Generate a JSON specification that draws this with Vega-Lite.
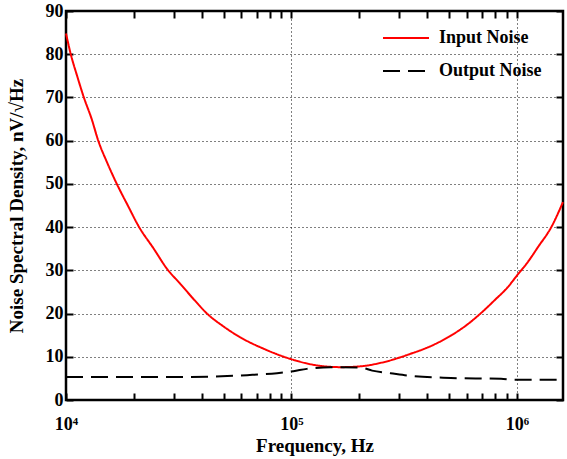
{
  "$schema": "https://vega.github.io/schema/vega-lite/v6.json",
  "autosize": {"type": "none"},
  "width": 497,
  "height": 389,
  "padding": {"left": 66, "top": 11, "right": 4, "bottom": 59},
  "background": "white",
  "config": {
    "view": {"stroke": "black", "strokeWidth": 2.5},
    "font": "Liberation Serif",
    "axis": {
      "domain": false,
      "labelFont": "Liberation Serif",
      "labelFontWeight": "bold",
      "labelFontSize": 18,
      "labelColor": "black",
      "titleFont": "Liberation Serif",
      "titleFontWeight": "bold",
      "titleFontSize": 19,
      "titleColor": "black",
      "gridColor": "black",
      "gridDash": [1, 3],
      "gridWidth": 1,
      "gridOpacity": 1,
      "labelFlush": false,
      "labelOverlap": false
    },
    "legend": {
      "labelFont": "Liberation Serif",
      "labelFontWeight": "bold",
      "labelFontSize": 18,
      "labelColor": "black"
    }
  },
  "data": {
    "values": [
      {"f": 10000, "v": 84.8, "s": "Input Noise"},
      {"f": 10500, "v": 80, "s": "Input Noise"},
      {"f": 11200, "v": 75, "s": "Input Noise"},
      {"f": 12000, "v": 70, "s": "Input Noise"},
      {"f": 13000, "v": 65, "s": "Input Noise"},
      {"f": 13900, "v": 60, "s": "Input Noise"},
      {"f": 15200, "v": 55, "s": "Input Noise"},
      {"f": 16800, "v": 50, "s": "Input Noise"},
      {"f": 18800, "v": 45, "s": "Input Noise"},
      {"f": 21100, "v": 40, "s": "Input Noise"},
      {"f": 24500, "v": 35, "s": "Input Noise"},
      {"f": 28000, "v": 30.4, "s": "Input Noise"},
      {"f": 32100, "v": 26.9, "s": "Input Noise"},
      {"f": 37000, "v": 23.2, "s": "Input Noise"},
      {"f": 42200, "v": 20, "s": "Input Noise"},
      {"f": 50000, "v": 17, "s": "Input Noise"},
      {"f": 59300, "v": 14.5, "s": "Input Noise"},
      {"f": 75300, "v": 11.85, "s": "Input Noise"},
      {"f": 99000, "v": 9.5, "s": "Input Noise"},
      {"f": 130000, "v": 8.0, "s": "Input Noise"},
      {"f": 165000, "v": 7.6, "s": "Input Noise"},
      {"f": 203000, "v": 7.8, "s": "Input Noise"},
      {"f": 249000, "v": 8.6, "s": "Input Noise"},
      {"f": 338000, "v": 10.7, "s": "Input Noise"},
      {"f": 420000, "v": 12.6, "s": "Input Noise"},
      {"f": 509000, "v": 14.9, "s": "Input Noise"},
      {"f": 600000, "v": 17.4, "s": "Input Noise"},
      {"f": 692000, "v": 20.1, "s": "Input Noise"},
      {"f": 800000, "v": 23.2, "s": "Input Noise"},
      {"f": 910000, "v": 26.1, "s": "Input Noise"},
      {"f": 1000000, "v": 28.8, "s": "Input Noise"},
      {"f": 1120000, "v": 32, "s": "Input Noise"},
      {"f": 1240000, "v": 35.4, "s": "Input Noise"},
      {"f": 1420000, "v": 40, "s": "Input Noise"},
      {"f": 1600000, "v": 45.8, "s": "Input Noise"},
      {"f": 10000, "v": 5.3, "s": "Output Noise"},
      {"f": 20000, "v": 5.3, "s": "Output Noise"},
      {"f": 32000, "v": 5.3, "s": "Output Noise"},
      {"f": 43000, "v": 5.4, "s": "Output Noise"},
      {"f": 63500, "v": 5.75, "s": "Output Noise"},
      {"f": 86300, "v": 6.2, "s": "Output Noise"},
      {"f": 102000, "v": 6.67, "s": "Output Noise"},
      {"f": 117000, "v": 7.2, "s": "Output Noise"},
      {"f": 149000, "v": 7.6, "s": "Output Noise"},
      {"f": 203000, "v": 7.5, "s": "Output Noise"},
      {"f": 228000, "v": 6.8, "s": "Output Noise"},
      {"f": 275000, "v": 6.2, "s": "Output Noise"},
      {"f": 350000, "v": 5.5, "s": "Output Noise"},
      {"f": 509000, "v": 5.1, "s": "Output Noise"},
      {"f": 850000, "v": 4.9, "s": "Output Noise"},
      {"f": 970000, "v": 4.7, "s": "Output Noise"},
      {"f": 1600000, "v": 4.7, "s": "Output Noise"}
    ]
  },
  "layer": [
    {
      "mark": {"type": "line", "strokeWidth": 2, "interpolate": "monotone"},
      "encoding": {
        "x": {
          "field": "f", "type": "quantitative",
          "scale": {"type": "log", "domain": [10000, 1600000], "nice": false},
          "axis": {
            "orient": "bottom",
            "offset": -7,
            "tickColor": "black",
            "tickSize": 7,
            "tickWidth": 2,
            "title": "Frequency, Hz",
            "titlePadding": 3,
            "values": [10000, 20000, 30000, 40000, 50000, 60000, 70000, 80000, 90000, 100000, 200000, 300000, 400000, 500000, 600000, 700000, 800000, 900000, 1000000],
            "labelExpr": "datum.value == 10000 ? '10⁴' : datum.value == 100000 ? '10⁵' : datum.value == 1000000 ? '10⁶' : ''",
            "gridOpacity": {"condition": {"test": "datum.value == 100000 || datum.value == 1000000", "value": 1}, "value": 0},
            "labelPadding": 15
          }
        },
        "y": {
          "field": "v", "type": "quantitative",
          "scale": {"domain": [0, 90], "nice": false},
          "axis": {
            "orient": "left",
            "offset": -7,
            "tickColor": "black",
            "tickSize": 7,
            "tickWidth": 2,
            "title": "Noise Spectral Density, nV/√Hz",
            "titlePadding": 19,
            "values": [0, 10, 20, 30, 40, 50, 60, 70, 80, 90],
            "labelPadding": 3
          }
        },
        "color": {
          "field": "s", "type": "nominal",
          "scale": {"domain": ["Input Noise", "Output Noise"], "range": ["#ff0000", "#000000"]},
          "legend": {
            "title": null,
            "orient": "none",
            "legendX": 316,
            "legendY": 3,
            "symbolType": "stroke",
            "symbolSize": 2116,
            "symbolStrokeWidth": 2,
            "labelOffset": 9,
            "rowPadding": -27
          }
        },
        "strokeDash": {
          "field": "s", "type": "nominal",
          "scale": {"domain": ["Input Noise", "Output Noise"], "range": [[1, 0], [17, 8]]},
          "legend": {
            "title": null,
            "orient": "none",
            "legendX": 316,
            "legendY": 3,
            "symbolType": "stroke",
            "symbolSize": 2116,
            "symbolStrokeWidth": 2,
            "labelOffset": 9,
            "rowPadding": -27
          }
        }
      }
    },
    {
      "mark": {"type": "line", "strokeOpacity": 0},
      "encoding": {
        "x": {
          "field": "f", "type": "quantitative",
          "axis": {
            "orient": "top",
            "offset": -7,
            "tickColor": "black",
            "tickSize": 7,
            "tickWidth": 2,
            "title": null,
            "labels": false,
            "grid": false,
            "values": [10000, 20000, 30000, 40000, 50000, 60000, 70000, 80000, 90000, 100000, 200000, 300000, 400000, 500000, 600000, 700000, 800000, 900000, 1000000]
          }
        },
        "y": {
          "field": "v", "type": "quantitative",
          "axis": {
            "orient": "right",
            "offset": -7,
            "tickColor": "black",
            "tickSize": 7,
            "tickWidth": 2,
            "title": null,
            "labels": false,
            "grid": false,
            "values": [0, 10, 20, 30, 40, 50, 60, 70, 80, 90]
          }
        },
        "detail": {"field": "s", "type": "nominal"}
      }
    }
  ],
  "resolve": {"axis": {"x": "independent", "y": "independent"}}
}
